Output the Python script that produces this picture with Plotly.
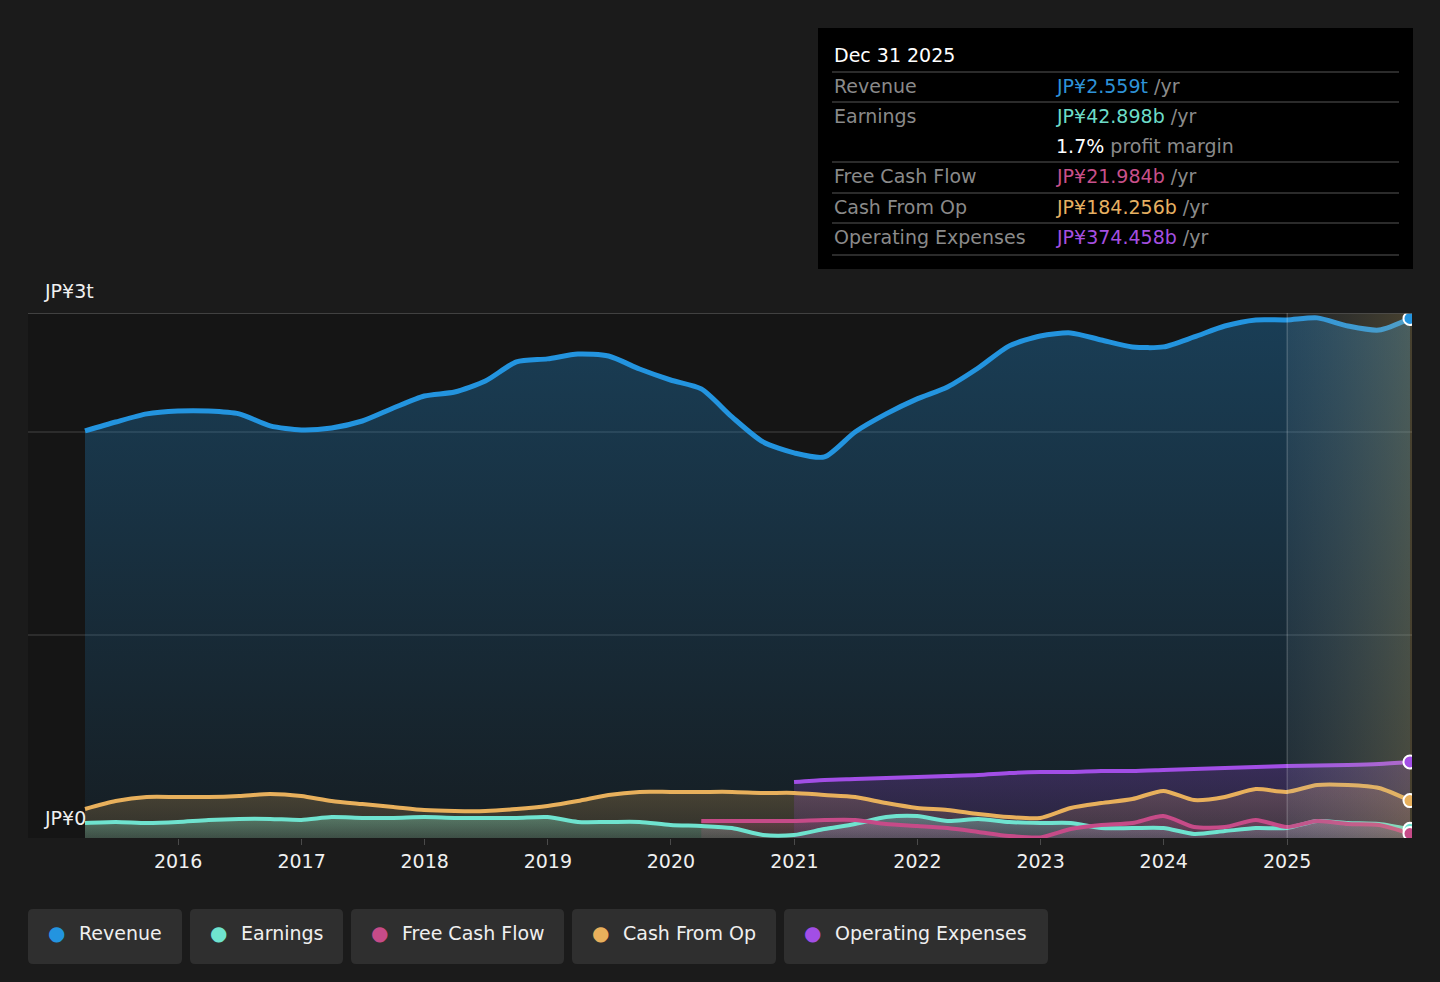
import pandas as pd
import plotly.graph_objects as go

W, H = 1440, 982
# plot box in screen pixels
PL, PR, PT, PB = 28, 1412, 313, 838

FONT = "DejaVu Sans"
BG = "#1b1b1b"
PLOT_BG = "#151515"

# quarterly reporting dates, Mar 2015 .. Dec 2025
dates = pd.date_range("2015-03-31", "2025-12-31", freq="QE")
forecast_start = "2025-01-01"

# values in JP¥ billions (trailing twelve months)
revenue = [2005, 2049, 2089, 2103, 2103, 2089, 2030, 2010,
           2020, 2054, 2118, 2177, 2197, 2251, 2345, 2360,
           2384, 2374, 2310, 2256, 2212, 2074, 1951, 1897,
           1877, 2000, 2089, 2163, 2222, 2315, 2424, 2473,
           2488, 2453, 2419, 2419, 2468, 2522, 2552, 2552,
           2562, 2522, 2502, 2559]
earnings = [74, 79, 74, 79, 89, 94, 94, 89,
            103, 99, 99, 103, 99, 99, 99, 103,
            79, 79, 79, 64, 59, 49, 15, 15,
            44, 69, 103, 108, 84, 94, 79, 74,
            74, 49, 49, 49, 20, 34, 49, 49,
            84, 74, 69, 42.898]
cash_from_op = [143, 182, 202, 202, 202, 207, 217, 207,
                182, 167, 153, 138, 133, 133, 143, 158,
                182, 212, 227, 227, 227, 227, 222, 222,
                212, 202, 172, 148, 138, 118, 103, 99,
                148, 172, 192, 232, 187, 202, 241, 227,
                261, 261, 246, 184.256]
# free cash flow reported from Mar 2020
fcf_dates = dates[20:]
free_cash_flow = [84, 84, 84, 84,
                  89, 89, 69, 59,
                  49, 30, 10, 3,
                  44, 64, 74, 108,
                  54, 54, 89, 54,
                  84, 69, 64, 21.984]
# operating expenses reported from Dec 2020
opex_dates = dates[23:]
opex = [276,
        286, 291, 296, 300,
        305, 310, 320, 325,
        325, 330, 330, 335,
        340, 345, 350, 355,
        357, 360, 365, 374.458]

y_max = 2586
year_ticks = [f"{y}-01-01" for y in range(2016, 2026)]
year_labels = [str(y) for y in range(2016, 2026)]

series = [
    # name, x, y, line colour, fill rgb, fill alpha top/bottom, width
    ("Revenue", dates, revenue, "#2394df", "35,148,223", 0.32, 0.07, 5),
    ("Earnings", dates, earnings, "#6fe3cf", "111,227,207", 0.40, 0.18, 4),
    ("Free Cash Flow", fcf_dates, free_cash_flow, "#c64b88", "198,75,136", 0.30, 0.12, 4),
    ("Cash From Op", dates, cash_from_op, "#e8b05c", "232,176,92", 0.25, 0.12, 4),
    ("Operating Expenses", opex_dates, opex, "#a24ee6", "162,78,230", 0.25, 0.12, 4),
]


def px_x(x):
    return (x - PL) / (PR - PL)


def px_y(y):
    return (PB - y) / (PB - PT)


def rounded_rect(x0, y0, x1, y1, r=5):
    """SVG path (paper coords) for a rounded box given in screen pixels."""
    pts = [
        f"M {px_x(x0 + r)},{px_y(y0)}",
        f"L {px_x(x1 - r)},{px_y(y0)}",
        f"Q {px_x(x1)},{px_y(y0)} {px_x(x1)},{px_y(y0 + r)}",
        f"L {px_x(x1)},{px_y(y1 - r)}",
        f"Q {px_x(x1)},{px_y(y1)} {px_x(x1 - r)},{px_y(y1)}",
        f"L {px_x(x0 + r)},{px_y(y1)}",
        f"Q {px_x(x0)},{px_y(y1)} {px_x(x0)},{px_y(y1 - r)}",
        f"L {px_x(x0)},{px_y(y0 + r)}",
        f"Q {px_x(x0)},{px_y(y0)} {px_x(x0 + r)},{px_y(y0)} Z",
    ]
    return " ".join(pts)


fig = go.Figure()

# area fills
for name, x, y, color, rgb, a_top, a_bot, width in series:
    fig.add_trace(go.Scatter(
        x=x, y=y, mode="lines", name=name, showlegend=False,
        line=dict(width=0, shape="spline", smoothing=0.7),
        fill="tozeroy",
        fillgradient=dict(type="vertical",
                          colorscale=[[0, f"rgba({rgb},{a_bot})"], [1, f"rgba({rgb},{a_top})"]]),
        hoverinfo="skip",
    ))

# lines
for name, x, y, color, rgb, a_top, a_bot, width in series:
    fig.add_trace(go.Scatter(
        x=x, y=y, mode="lines", name=name, showlegend=False,
        line=dict(color=color, width=width, shape="spline", smoothing=0.7),
        hovertemplate="%{y:.1f}b<extra>" + name + "</extra>",
    ))

# forecast / latest period shading
fig.add_trace(go.Scatter(
    x=[forecast_start, dates[-1] + pd.Timedelta(days=6)], y=[y_max, y_max],
    mode="lines", line=dict(width=0), fill="tozeroy", showlegend=False,
    fillgradient=dict(type="horizontal",
                      colorscale=[[0, "rgba(150,170,180,0.10)"], [1, "rgba(215,190,120,0.26)"]]),
    hoverinfo="skip",
))

# end markers
for name, x, y, color, rgb, a_top, a_bot, width in series:
    fig.add_trace(go.Scatter(
        x=[x[-1]], y=[y[-1]], mode="markers", showlegend=False,
        marker=dict(color=color, size=13, line=dict(color="white", width=2)),
        hoverinfo="skip",
    ))

shapes = []
annotations = []

# top line and forecast divider
shapes.append(dict(type="line", xref="paper", yref="y", x0=0, x1=1, y0=y_max, y1=y_max,
                   line=dict(color="#505050", width=1.5)))
shapes.append(dict(type="line", xref="x", yref="y", x0=forecast_start, x1=forecast_start,
                   y0=0, y1=y_max, line=dict(color="rgba(255,255,255,0.18)", width=1.5)))

annotations.append(dict(xref="paper", yref="paper", x=px_x(42), y=px_y(291), text=f"JP¥{round(y_max / 1000)}t",
                        showarrow=False, xanchor="left", yanchor="middle",
                        font=dict(family=FONT, size=19, color="#f0f0f0")))
annotations.append(dict(xref="paper", yref="paper", x=px_x(42), y=px_y(818), text="JP¥0",
                        showarrow=False, xanchor="left", yanchor="middle",
                        font=dict(family=FONT, size=19, color="#f0f0f0")))

# tooltip box
shapes.append(dict(type="rect", xref="paper", yref="paper", x0=px_x(818), x1=px_x(1413),
                   y0=px_y(28), y1=px_y(269), fillcolor="#000000", line=dict(width=0)))
annotations.append(dict(xref="paper", yref="paper", x=px_x(832), y=px_y(55),
                        text=dates[-1].strftime("%b %d %Y"), showarrow=False,
                        xanchor="left", yanchor="middle",
                        font=dict(family=FONT, size=19, color="#ffffff")))
for sy in [72, 102, 162, 193, 223, 255]:
    shapes.append(dict(type="line", xref="paper", yref="paper", x0=px_x(832), x1=px_x(1399),
                       y0=px_y(sy), y1=px_y(sy), line=dict(color="#3a3a3a", width=1.5)))

gray = "#8a8a8a"
margin = earnings[-1] / revenue[-1] * 100
rows = [
    (86, "Revenue", f"<span style='color:#2e93d8'>JP¥{revenue[-1] / 1000:.3f}t</span> /yr"),
    (116, "Earnings", f"<span style='color:#6cdcc8'>JP¥{earnings[-1]:.3f}b</span> /yr"),
    (146, "", f"<span style='color:#ffffff'>{margin:.1f}%</span> profit margin"),
    (176, "Free Cash Flow", f"<span style='color:#c8508a'>JP¥{free_cash_flow[-1]:.3f}b</span> /yr"),
    (207, "Cash From Op", f"<span style='color:#e6b062'>JP¥{cash_from_op[-1]:.3f}b</span> /yr"),
    (237, "Operating Expenses", f"<span style='color:#a54fe0'>JP¥{opex[-1]:.3f}b</span> /yr"),
]
for ry, label, value in rows:
    if label:
        annotations.append(dict(xref="paper", yref="paper", x=px_x(832), y=px_y(ry), text=label,
                                showarrow=False, xanchor="left", yanchor="middle",
                                font=dict(family=FONT, size=19, color=gray)))
    annotations.append(dict(xref="paper", yref="paper", x=px_x(1054), y=px_y(ry), text=value,
                            showarrow=False, xanchor="left", yanchor="middle",
                            font=dict(family=FONT, size=19, color=gray)))

# legend chips
chips = [(28, 182), (190, 343), (351, 564), (572, 776), (784, 1048)]
for (x0, x1), (name, x, y, color, *_rest) in zip(chips, series):
    shapes.append(dict(type="path", xref="paper", yref="paper", path=rounded_rect(x0, 909, x1, 964),
                       fillcolor="#2f2f2f", line=dict(width=0)))
    annotations.append(dict(xref="paper", yref="paper", x=px_x(x0 + 28), y=px_y(933), text="●",
                            showarrow=False, xanchor="center", yanchor="middle",
                            font=dict(family=FONT, size=20, color=color)))
    annotations.append(dict(xref="paper", yref="paper", x=px_x(x0 + 49), y=px_y(933), text=name,
                            showarrow=False, xanchor="left", yanchor="middle",
                            font=dict(family=FONT, size=19, color="#f0f0f0")))

fig.update_layout(
    width=W, height=H,
    margin=dict(l=PL, r=W - PR, t=PT, b=H - PB, pad=0),
    paper_bgcolor=BG, plot_bgcolor=PLOT_BG,
    font=dict(family=FONT, size=19, color="#f0f0f0"),
    showlegend=False,
    hovermode="closest",
    shapes=shapes, annotations=annotations,
    xaxis=dict(
        range=["2014-10-13", "2026-01-06"],
        tickvals=year_ticks, ticktext=year_labels,
        ticks="outside", ticklen=6, tickcolor="#4a4a4a",
        showgrid=False, zeroline=False, showline=False,
        tickfont=dict(family=FONT, size=19, color="#f0f0f0"),
    ),
    yaxis=dict(
        range=[0, y_max], tickvals=[1000, 2000], showticklabels=False,
        showgrid=True, gridcolor="#2c2c2c", gridwidth=1.5, zeroline=False, showline=False,
        fixedrange=True,
    ),
)

# drop the default page margin so the figure sits at the window origin
fig.write_html(
    "out.html",
    config={"displayModeBar": False},
    post_script="document.body.style.margin='0';document.body.style.background='#1b1b1b';",
)
